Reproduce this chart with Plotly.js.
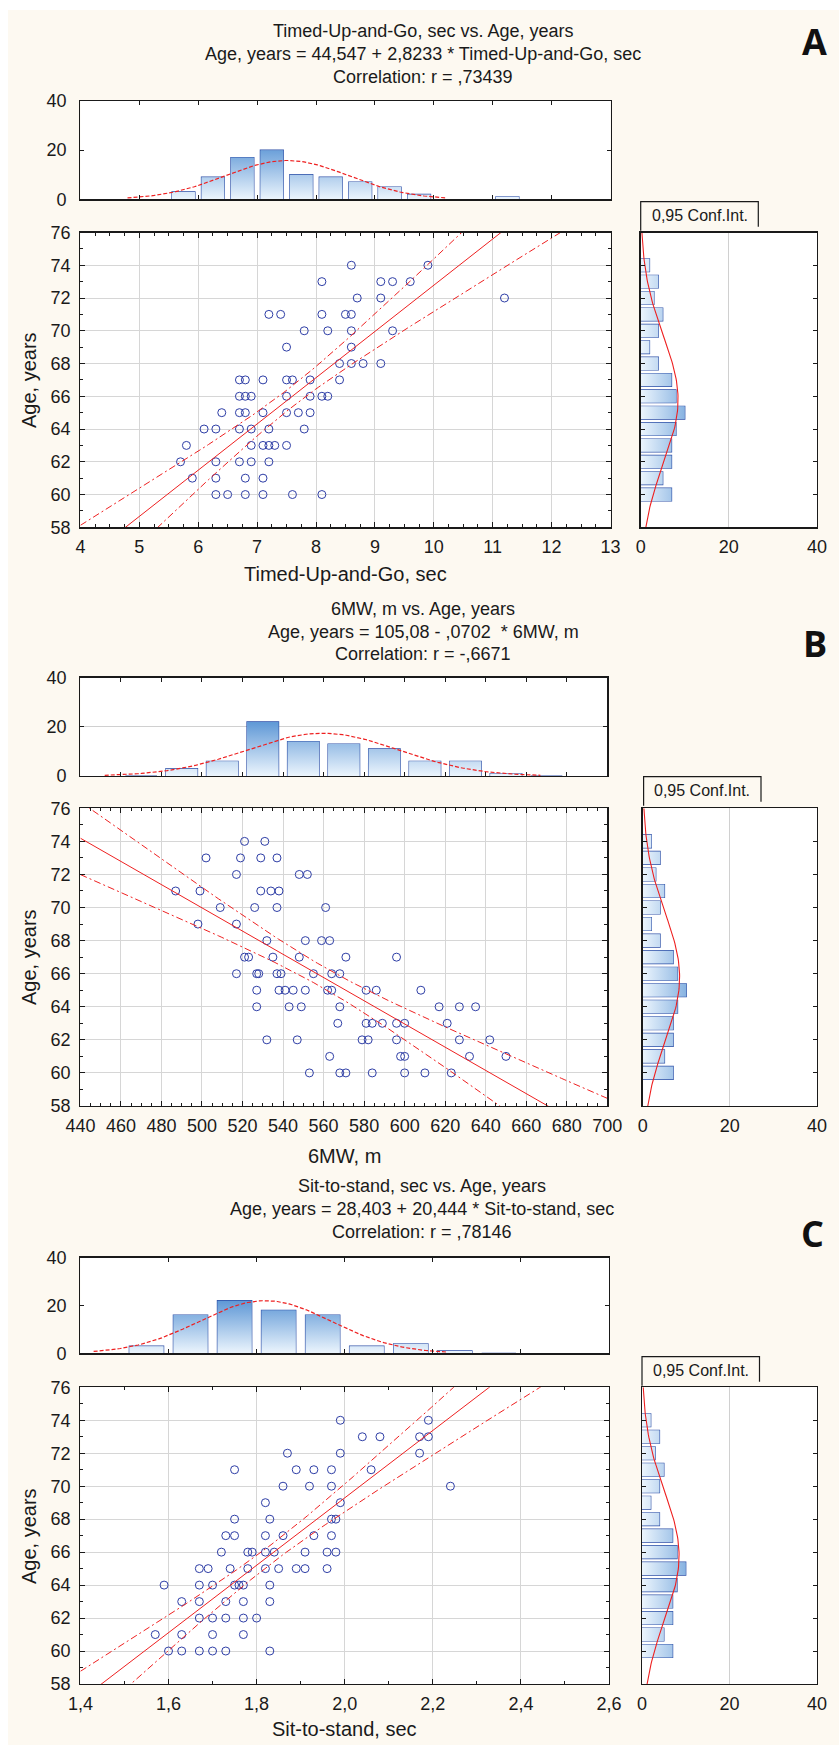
<!DOCTYPE html>
<html>
<head>
<meta charset="utf-8">
<script src="https://cdn.plot.ly/plotly-3.0.1.min.js"></script>
<style>
  html, body { margin: 0; padding: 0; background: #ffffff; }
  #chart { width: 839px; height: 1745px; }
</style>
</head>
<body>
<div id="chart"></div>
<script>
// ---------------- DATA ----------------
// Panel A: Timed-Up-and-Go vs Age
const tugSec = [8.6, 9.9, 8.1, 9.1, 9.3, 9.6, 8.7, 9.1, 11.2, 7.2, 7.4, 8.1, 8.5, 8.6,
  7.8, 8.2, 8.6, 9.3, 7.5, 8.6, 8.4, 8.6, 8.8, 9.1, 6.7, 6.8, 7.1, 7.5, 7.6, 7.9, 8.4,
  6.7, 6.8, 6.9, 7.5, 7.9, 8.1, 8.2, 6.4, 6.7, 6.8, 7.1, 7.5, 7.7, 7.9, 6.1, 6.3, 6.7,
  6.9, 7.2, 7.8, 5.8, 6.9, 7.1, 7.2, 7.3, 7.5, 5.7, 6.3, 6.7, 6.9, 7.2, 5.9, 6.3, 6.8,
  7.1, 6.3, 6.5, 6.8, 7.1, 7.6, 8.1];
const tugAge = [74, 74, 73, 73, 73, 73, 72, 72, 72, 71, 71, 71, 71, 71,
  70, 70, 70, 70, 69, 69, 68, 68, 68, 68, 67, 67, 67, 67, 67, 67, 67,
  66, 66, 66, 66, 66, 66, 66, 65, 65, 65, 65, 65, 65, 65, 64, 64, 64,
  64, 64, 64, 63, 63, 63, 63, 63, 63, 62, 62, 62, 62, 62, 61, 61, 61,
  61, 60, 60, 60, 60, 60, 60];
const tugIntercept = 44.547, tugSlope = 2.8233;
const tugBins = [5.75, 6.25, 6.75, 7.25, 7.75, 8.25, 8.75, 9.25, 9.75, 11.25];
const tugCounts = [3, 9, 17, 20, 10, 9, 7, 5, 2, 1];
const tugBinWidth = 0.5;
const tugCurveRange = [4.8, 10.2];
const tugTitle = ["Timed-Up-and-Go, sec vs. Age, years",
  "Age, years = 44,547 + 2,8233 * Timed-Up-and-Go, sec",
  "Correlation: r = ,73439"];
const tugXTitle = "Timed-Up-and-Go, sec";

// Panel B: 6MW vs Age
const mwMeters = [521, 531, 502, 519, 529, 537, 517, 548, 552, 487, 499, 529, 534, 538,
  509, 526, 537, 561, 498, 517, 532, 551, 559, 563, 521, 523, 535, 548, 571, 596,
  517, 527, 528, 537, 539, 555, 564, 568, 527, 538, 541, 545, 551, 562, 564, 581, 586, 608,
  527, 543, 549, 568, 617, 627, 635, 567, 581, 584, 589, 596, 600, 621,
  532, 547, 579, 582, 596, 627, 642, 563, 598, 600, 632, 650, 553, 568, 571, 584, 600, 610, 623];
const mwAge = [74, 74, 73, 73, 73, 73, 72, 72, 72, 71, 71, 71, 71, 71,
  70, 70, 70, 70, 69, 69, 68, 68, 68, 68, 67, 67, 67, 67, 67, 67,
  66, 66, 66, 66, 66, 66, 66, 66, 65, 65, 65, 65, 65, 65, 65, 65, 65, 65,
  64, 64, 64, 64, 64, 64, 64, 63, 63, 63, 63, 63, 63, 63,
  62, 62, 62, 62, 62, 62, 62, 61, 61, 61, 61, 61, 60, 60, 60, 60, 60, 60, 60];
const mwIntercept = 105.08, mwSlope = -0.0702;
const mwBins = [470, 490, 510, 530, 550, 570, 590, 610, 630, 650, 670];
const mwCounts = [0, 3, 6, 22, 14, 13, 11, 6, 6, 1, 0];
const mwBinWidth = 20;
const mwCurveRange = [452, 667];
const mwTitle = ["6MW, m vs. Age, years",
  "Age, years = 105,08 - ,0702  * 6MW, m",
  "Correlation: r = -,6671"];
const mwXTitle = "6MW, m";

// Panel C: Sit-to-stand vs Age
const stsSec = [1.99, 2.19, 2.04, 2.08, 2.17, 2.19, 1.87, 1.99, 2.17, 1.75, 1.89, 1.93, 1.97, 2.06,
  1.86, 1.92, 1.97, 2.24, 1.82, 1.99, 1.75, 1.83, 1.97, 1.98, 1.73, 1.75, 1.82, 1.86, 1.93, 1.97,
  1.72, 1.78, 1.79, 1.82, 1.84, 1.91, 1.96, 1.98, 1.67, 1.69, 1.74, 1.78, 1.82, 1.85, 1.89, 1.91, 1.96,
  1.59, 1.67, 1.70, 1.75, 1.76, 1.77, 1.83, 1.63, 1.67, 1.73, 1.77, 1.83,
  1.67, 1.70, 1.73, 1.77, 1.80, 1.57, 1.63, 1.70, 1.77, 1.60, 1.63, 1.67, 1.70, 1.73, 1.83];
const stsAge = [74, 74, 73, 73, 73, 73, 72, 72, 72, 71, 71, 71, 71, 71,
  70, 70, 70, 70, 69, 69, 68, 68, 68, 68, 67, 67, 67, 67, 67, 67,
  66, 66, 66, 66, 66, 66, 66, 66, 65, 65, 65, 65, 65, 65, 65, 65, 65,
  64, 64, 64, 64, 64, 64, 64, 63, 63, 63, 63, 63,
  62, 62, 62, 62, 62, 61, 61, 61, 61, 60, 60, 60, 60, 60, 60];
const stsIntercept = 28.403, stsSlope = 20.444;
const stsBins = [1.55, 1.65, 1.75, 1.85, 1.95, 2.05, 2.15, 2.25, 2.35];
const stsCounts = [3, 16, 22, 18, 16, 3, 4, 1, 0];
const stsBinWidth = 0.1;
const stsCurveRange = [1.43, 2.23];
const stsTitle = ["Sit-to-stand, sec vs. Age, years",
  "Age, years = 28,403 + 20,444 * Sit-to-stand, sec",
  "Correlation: r = ,78146"];
const stsXTitle = "Sit-to-stand, sec";

// Age histogram (right side, same in all panels)
const ageValues = [60, 61, 62, 63, 64, 65, 66, 67, 68, 69, 70, 71, 72, 73, 74];
const ageCounts = [7, 5, 7, 7, 8, 10, 8, 7, 4, 2, 4, 5, 3, 4, 2];
const ageRange = [58, 76];
const ageTitle = "Age, years";
const ciLabel = "0,95 Conf.Int.";
const panelLetters = ["A", "B", "C"];

// ---------------- HELPERS ----------------
const W = 839, H = 1745;
const PX = v => v / W;
const PY = v => 1 - v / H;
const FONT = '"Liberation Sans", Arial, sans-serif';
const INK = '#1a1a1a';
const RED = '#ee2020';
const PT = '#2e3ea6';
const BAR_LINE = '#2c4ea6';
const T_CRIT = 1.99;
const BARGAP = 0.22;
const GRAD = [[0, '#ecf5fd'], [1, '#5f98d6']];

function mean(a) { return a.reduce((s, v) => s + v, 0) / a.length; }
function linspace(a, b, n) { const r = []; for (let i = 0; i < n; i++) r.push(a + (b - a) * i / (n - 1)); return r; }

function normalCurve(centers, counts, binW, lo, hi) {
  const n = counts.reduce((s, v) => s + v, 0);
  const m = centers.reduce((s, c, i) => s + c * counts[i], 0) / n;
  const v = centers.reduce((s, c, i) => s + counts[i] * (c - m) * (c - m), 0) / (n - 1);
  const sd = Math.sqrt(v);
  const xs = linspace(lo, hi, 120);
  const ys = xs.map(x => n * binW / (sd * Math.sqrt(2 * Math.PI)) * Math.exp(-0.5 * ((x - m) / sd) ** 2));
  return { xs, ys };
}

function confBand(xs, ys, a, b, lo, hi, sign) {
  const n = xs.length;
  const xm = mean(xs);
  const sxx = xs.reduce((s, x) => s + (x - xm) ** 2, 0);
  const sse = xs.reduce((s, x, i) => s + (ys[i] - (a + b * x)) ** 2, 0);
  const s = Math.sqrt(sse / (n - 2));
  const gx = linspace(lo, hi, 150);
  const gy = gx.map(x => a + b * x + sign * T_CRIT * s * Math.sqrt(1 / n + (x - xm) ** 2 / sxx));
  return { gx, gy };
}

// gradient fill polygons behind the bars (built from the bin centres and counts)
function barPolys(centers, counts, binW, horizontal) {
  const w = binW * (1 - BARGAP) / 2;
  const a = [], b = [];
  centers.forEach((c, i) => {
    const h = counts[i];
    if (!h) return;
    a.push(c - w, c - w, c + w, c + w, c - w, null);
    b.push(0, h, h, 0, 0, null);
  });
  return horizontal ? { x: b, y: a } : { x: a, y: b };
}

// ---------------- PANELS ----------------
const panels = [
  { xs: tugSec, ys: tugAge, a: tugIntercept, b: tugSlope, xRange: [4, 13], dtick: 1, minor: 0.25, fmt: 'd',
    bins: tugBins, counts: tugCounts, binW: tugBinWidth, curve: tugCurveRange, title: tugTitle, xTitle: tugXTitle,
    histGrid: false,
    sc: [80.4, 610.5, 232.5, 527.3], hist: [80.4, 610.5, 101, 199.3], right: [640.7, 817, 232.5, 527.3],
    conf: [640.7, 758.3, 201.7, 226.7], titleY: [31, 54, 77], titleX: 423, letter: [814, 41],
    xTitlePos: [345, 574], yTitlePos: [29, 380] },
  { xs: mwMeters, ys: mwAge, a: mwIntercept, b: mwSlope, xRange: [440, 700], dtick: 20, minor: 5, fmt: 'd',
    bins: mwBins, counts: mwCounts, binW: mwBinWidth, curve: mwCurveRange, title: mwTitle, xTitle: mwXTitle,
    histGrid: true,
    sc: [80.4, 607.3, 808.3, 1106], hist: [80.4, 607.3, 677.7, 776], right: [642.7, 817, 808.3, 1106],
    conf: [643.6, 761, 776.7, 801.7], titleY: [609.3, 631.7, 654], titleX: 423, letter: [815, 643],
    xTitlePos: [344, 1156], yTitlePos: [29, 957] },
  { xs: stsSec, ys: stsAge, a: stsIntercept, b: stsSlope, xRange: [1.4, 2.6], dtick: 0.2, minor: 0.1, fmt: '.1f',
    bins: stsBins, counts: stsCounts, binW: stsBinWidth, curve: stsCurveRange, title: stsTitle, xTitle: stsXTitle,
    histGrid: false,
    sc: [80.4, 609, 1387.3, 1684], hist: [80.4, 609, 1257.7, 1353.3], right: [642, 817, 1387.3, 1684],
    conf: [642, 759.5, 1356.7, 1381.7], titleY: [1186, 1209.3, 1231.7], titleX: 422, letter: [812, 1233],
    xTitlePos: [344, 1729], yTitlePos: [29, 1536] }
];

const traces = [];
const layout = {
  width: W, height: H,
  margin: { l: 0, r: 0, t: 0, b: 0, pad: 0 },
  paper_bgcolor: '#fdf9f1',
  plot_bgcolor: '#ffffff',
  showlegend: false,
  separators: ',.',
  bargap: BARGAP,
  font: { family: FONT, color: INK, size: 18 },
  annotations: [],
  shapes: [
    { type: 'rect', xref: 'paper', yref: 'paper', x0: 0, x1: 1, y0: PY(10), y1: 1, fillcolor: '#ffffff', line: { width: 0 }, layer: 'below' },
    { type: 'rect', xref: 'paper', yref: 'paper', x0: 0, x1: PX(8), y0: 0, y1: 1, fillcolor: '#ffffff', line: { width: 0 }, layer: 'below' }
  ]
};

const frame = {
  showline: true, linecolor: INK, linewidth: 1.3, mirror: 'ticks',
  ticks: 'inside', tickcolor: INK, tickwidth: 1, ticklen: 5, zeroline: false,
  tickfont: { family: FONT, size: 18, color: INK }
};

function axName(id) { return id[0] + 'axis' + (id.length > 1 ? id.slice(1) : ''); }

panels.forEach((p, k) => {
  const n0 = 3 * k + 1;
  const sx = n0 === 1 ? 'x' : 'x' + n0, sy = n0 === 1 ? 'y' : 'y' + n0;
  const hx = 'x' + (n0 + 1), hy = 'y' + (n0 + 1);
  const rx = 'x' + (n0 + 2), ry = 'y' + (n0 + 2);

  // ---- scatter axes
  layout[axName(sx)] = Object.assign({}, frame, {
    domain: [PX(p.sc[0]), PX(p.sc[1])], anchor: sy, range: p.xRange, dtick: p.dtick, tick0: p.xRange[0],
    tickformat: p.fmt, showgrid: true, gridcolor: '#d6d6d6', gridwidth: 1, ticklabelstandoff: 3,
    minor: { dtick: p.minor, ticks: 'inside', ticklen: 3, tickcolor: INK, showgrid: false }
  });
  layout[axName(sy)] = Object.assign({}, frame, {
    domain: [PY(p.sc[3]), PY(p.sc[2])], anchor: sx, range: ageRange, dtick: 2, tick0: 58,
    showgrid: true, gridcolor: '#d6d6d6', gridwidth: 1, ticklabelstandoff: 5,
    minor: { dtick: 1, ticks: 'inside', ticklen: 3, tickcolor: INK, showgrid: false }
  });
  // ---- top histogram axes
  layout[axName(hx)] = Object.assign({}, frame, {
    domain: [PX(p.hist[0]), PX(p.hist[1])], anchor: hy, range: p.xRange, dtick: p.dtick, tick0: p.xRange[0],
    showticklabels: false, showgrid: false, ticklen: 4
  });
  layout[axName(hy)] = Object.assign({}, frame, {
    domain: [PY(p.hist[3]), PY(p.hist[2])], anchor: hx, range: [0, 40], dtick: 20, tick0: 0,
    showgrid: p.histGrid, gridcolor: '#d0d0d0', ticklen: 4, ticklabelstandoff: 9
  });
  // ---- right histogram axes
  layout[axName(rx)] = Object.assign({}, frame, {
    domain: [PX(p.right[0]), PX(p.right[1])], anchor: ry, range: [0, 40], dtick: 20, tick0: 0,
    ticks: '', showgrid: true, gridcolor: '#d0d0d0', ticklabelstandoff: 3, mirror: true
  });
  layout[axName(ry)] = Object.assign({}, frame, {
    domain: [PY(p.right[3]), PY(p.right[2])], anchor: rx, range: ageRange, dtick: 2, tick0: 58,
    showticklabels: false, showgrid: false, ticklen: 4
  });

  // ---- traces: scatter points
  traces.push({
    type: 'scatter', mode: 'markers', x: p.xs, y: p.ys, xaxis: sx, yaxis: sy,
    marker: { symbol: 'circle-open', size: 8, color: PT, line: { width: 1, color: PT } },
    cliponaxis: true, hoverinfo: 'skip'
  });
  // regression line
  const lx = [p.xRange[0], p.xRange[1]];
  traces.push({
    type: 'scatter', mode: 'lines', x: lx, y: lx.map(x => p.a + p.b * x), xaxis: sx, yaxis: sy,
    line: { color: RED, width: 1 }, hoverinfo: 'skip'
  });
  // confidence bands
  [1, -1].forEach(sg => {
    const bnd = confBand(p.xs, p.ys, p.a, p.b, p.xRange[0], p.xRange[1], sg);
    traces.push({
      type: 'scatter', mode: 'lines', x: bnd.gx, y: bnd.gy, xaxis: sx, yaxis: sy,
      line: { color: RED, width: 1, dash: '7px,3px,2px,3px' }, hoverinfo: 'skip'
    });
  });

  // ---- top histogram: gradient fill + bar outlines
  const tp = barPolys(p.bins, p.counts, p.binW, false);
  traces.push({
    type: 'scatter', mode: 'lines', x: tp.x, y: tp.y, xaxis: hx, yaxis: hy,
    line: { width: 0, color: 'rgba(0,0,0,0)' }, fill: 'toself', fillcolor: '#b3d1ef',
    fillgradient: { type: 'vertical', start: 0, stop: 22, colorscale: GRAD },
    hoverinfo: 'skip'
  });
  traces.push({
    type: 'bar', x: p.bins, y: p.counts, xaxis: hx, yaxis: hy,
    marker: { color: 'rgba(0,0,0,0)', line: { color: BAR_LINE, width: 1.2 } },
    hoverinfo: 'skip'
  });
  const nc = normalCurve(p.bins, p.counts, p.binW, p.curve[0], p.curve[1]);
  traces.push({
    type: 'scatter', mode: 'lines', x: nc.xs, y: nc.ys, xaxis: hx, yaxis: hy,
    line: { color: RED, width: 1.2, dash: '4px,2px' }, hoverinfo: 'skip'
  });

  // ---- right histogram: gradient fill + bar outlines
  const rp = barPolys(ageValues, ageCounts, 1, true);
  traces.push({
    type: 'scatter', mode: 'lines', x: rp.x, y: rp.y, xaxis: rx, yaxis: ry,
    line: { width: 0, color: 'rgba(0,0,0,0)' }, fill: 'toself', fillcolor: '#c2daf2',
    fillgradient: { type: 'horizontal', start: 0, stop: 14, colorscale: GRAD },
    hoverinfo: 'skip'
  });
  traces.push({
    type: 'bar', orientation: 'h', y: ageValues, x: ageCounts, xaxis: rx, yaxis: ry,
    marker: { color: 'rgba(0,0,0,0)', line: { color: BAR_LINE, width: 1.2 } },
    hoverinfo: 'skip'
  });
  const ac = normalCurve(ageValues, ageCounts, 1, ageRange[0], ageRange[1]);
  traces.push({
    type: 'scatter', mode: 'lines', x: ac.ys, y: ac.xs, xaxis: rx, yaxis: ry,
    line: { color: RED, width: 1.1 }, hoverinfo: 'skip'
  });

  // ---- texts
  p.title.forEach((t, i) => {
    layout.annotations.push({
      xref: 'paper', yref: 'paper', x: PX(p.titleX), y: PY(p.titleY[i]), text: t, showarrow: false,
      xanchor: 'center', yanchor: 'middle', font: { family: FONT, size: 18, color: INK }
    });
  });
  layout.annotations.push({
    xref: 'paper', yref: 'paper', x: PX(p.letter[0]), y: PY(p.letter[1]), text: '<b>' + panelLetters[k] + '</b>',
    showarrow: false, xanchor: 'center', yanchor: 'middle', font: { family: '"Open Sans", "DejaVu Sans", sans-serif', size: 36, color: '#111111' }
  });
  layout.annotations.push({
    xref: 'paper', yref: 'paper', x: PX(p.xTitlePos[0]), y: PY(p.xTitlePos[1]), text: p.xTitle, showarrow: false,
    xanchor: 'center', yanchor: 'middle', font: { family: FONT, size: 20, color: INK }
  });
  layout.annotations.push({
    xref: 'paper', yref: 'paper', x: PX(p.yTitlePos[0]), y: PY(p.yTitlePos[1]), text: ageTitle, showarrow: false,
    textangle: -90, xanchor: 'center', yanchor: 'middle', font: { family: FONT, size: 20, color: INK }
  });
  // confidence interval label box
  const cb = p.conf;
  layout.shapes.push({
    type: 'path', xref: 'paper', yref: 'paper',
    path: 'M ' + PX(cb[0]) + ',' + PY(cb[3] + 4) + ' L ' + PX(cb[0]) + ',' + PY(cb[2]) +
          ' L ' + PX(cb[1]) + ',' + PY(cb[2]) + ' L ' + PX(cb[1]) + ',' + PY(cb[3]),
    line: { color: INK, width: 1.2 }
  });
  layout.annotations.push({
    xref: 'paper', yref: 'paper', x: PX((cb[0] + cb[1]) / 2), y: PY((cb[2] + cb[3]) / 2 + 1), text: ciLabel,
    showarrow: false, xanchor: 'center', yanchor: 'middle', font: { family: FONT, size: 16, color: INK }
  });
});

Plotly.newPlot('chart', traces, layout, { staticPlot: true, displayModeBar: false });
</script>
</body>
</html>
